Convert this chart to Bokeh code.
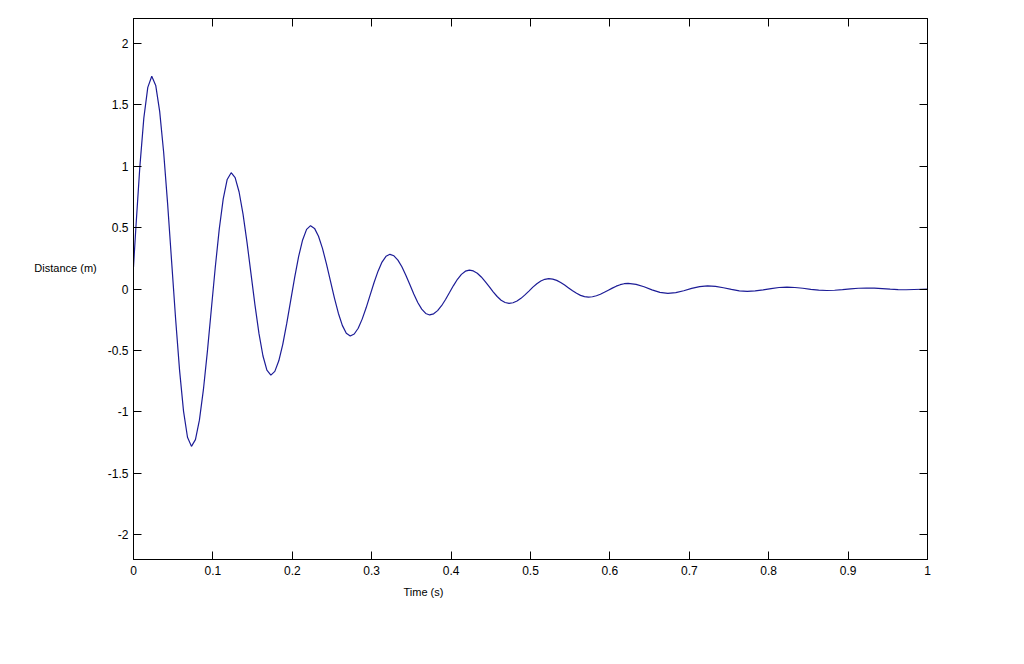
from bokeh.plotting import figure
from bokeh.models import LinearAxis, FixedTicker, Range1d
from bokeh.core.properties import value
from bokeh.embed import file_html
from bokeh.resources import INLINE

# Time samples (s) and distance readings (m)
time_s = [
    0.000, 0.003, 0.008, 0.013, 0.018, 0.023,
    0.028, 0.033, 0.038, 0.043, 0.048, 0.053, 0.058, 0.063, 0.068, 0.073,
    0.078, 0.083, 0.088, 0.093, 0.098, 0.103, 0.108, 0.113, 0.118, 0.123,
    0.128, 0.133, 0.138, 0.143, 0.148, 0.153, 0.158, 0.163, 0.168, 0.173,
    0.178, 0.183, 0.188, 0.193, 0.198, 0.203, 0.208, 0.213, 0.218, 0.223,
    0.228, 0.233, 0.238, 0.243, 0.248, 0.253, 0.258, 0.263, 0.268, 0.273,
    0.278, 0.283, 0.288, 0.293, 0.298, 0.303, 0.308, 0.313, 0.318, 0.323,
    0.328, 0.333, 0.338, 0.343, 0.348, 0.353, 0.358, 0.363, 0.368, 0.373,
    0.378, 0.383, 0.388, 0.393, 0.398, 0.403, 0.408, 0.413, 0.418, 0.423,
    0.428, 0.433, 0.438, 0.443, 0.448, 0.453, 0.458, 0.463, 0.468, 0.473,
    0.478, 0.483, 0.488, 0.493, 0.498, 0.503, 0.508, 0.513, 0.518, 0.523,
    0.528, 0.533, 0.538, 0.543, 0.548, 0.553, 0.558, 0.563, 0.568, 0.573,
    0.578, 0.583, 0.588, 0.593, 0.598, 0.603, 0.608, 0.613, 0.618, 0.623,
    0.633, 0.643, 0.653, 0.663, 0.673,
    0.683, 0.693, 0.703, 0.713, 0.723,
    0.733, 0.743, 0.753, 0.763, 0.773,
    0.783, 0.793, 0.803, 0.813, 0.823,
    0.833, 0.843, 0.853, 0.863, 0.873,
    0.883, 0.893, 0.903, 0.913, 0.923,
    0.933, 0.943, 0.953, 0.963, 0.973,
    0.983, 0.993, 1.000,
]
distance_m = [
    0.18, 0.50, 0.995, 1.39, 1.64, 1.73,
    1.656, 1.443, 1.110, 0.690, 0.225, -0.240, -0.660, -0.993, -1.206, -1.28,
    -1.225, -1.067, -0.821, -0.511, -0.167, 0.177, 0.487, 0.733, 0.891, 0.946,
    0.906, 0.789, 0.607, 0.377, 0.123, -0.131, -0.361, -0.543, -0.660, -0.70,
    -0.670, -0.584, -0.450, -0.280, -0.093, 0.095, 0.265, 0.399, 0.485, 0.515,
    0.493, 0.429, 0.330, 0.205, 0.066, -0.072, -0.197, -0.296, -0.360, -0.382,
    -0.366, -0.319, -0.245, -0.153, -0.050, 0.053, 0.145, 0.219, 0.266, 0.282,
    0.270, 0.235, 0.181, 0.112, 0.036, -0.041, -0.110, -0.164, -0.199, -0.211,
    -0.202, -0.176, -0.136, -0.085, -0.029, 0.028, 0.079, 0.119, 0.145, 0.154,
    0.147, 0.128, 0.098, 0.060, 0.019, -0.023, -0.061, -0.091, -0.110, -0.117,
    -0.112, -0.098, -0.076, -0.048, -0.017, 0.015, 0.043, 0.065, 0.079, 0.084,
    0.080, 0.070, 0.053, 0.032, 0.009, -0.014, -0.035, -0.052, -0.062, -0.066,
    -0.063, -0.055, -0.043, -0.027, -0.010, 0.007, 0.023, 0.035, 0.043, 0.046,
    0.038, 0.018, -0.007, -0.027, -0.035,
    -0.029, -0.014, 0.005, 0.020, 0.026,
    0.022, 0.010, -0.003, -0.015, -0.019,
    -0.016, -0.007, 0.003, 0.012, 0.015,
    0.012, 0.006, -0.003, -0.009, -0.012,
    -0.010, -0.005, 0.001, 0.006, 0.008,
    0.0067, 0.0032, -0.0012, -0.0047, -0.006,
    -0.004, -0.002, -0.0005,
]

x_ticks = [0, 0.1, 0.2, 0.3, 0.4, 0.5, 0.6, 0.7, 0.8, 0.9, 1]
x_tick_labels = ["0", "0.1", "0.2", "0.3", "0.4", "0.5", "0.6", "0.7", "0.8", "0.9", "1"]
y_ticks = [-2, -1.5, -1, -0.5, 0, 0.5, 1, 1.5, 2]
y_tick_labels = ["-2", "-1.5", "-1", "-0.5", "0", "0.5", "1", "1.5", "2"]
x_label = "Time (s)"
y_label = "Distance (m)"

FONT = "Liberation Sans"

p = figure(
    width=1016, height=656,
    x_range=Range1d(0, 1), y_range=Range1d(-2.2, 2.2),
    output_backend="svg", toolbar_location=None,
    min_border_left=133, min_border_right=89, min_border_top=18, min_border_bottom=97,
    background_fill_color="white", border_fill_color="white",
)
p.grid.visible = False
p.outline_line_color = "black"
p.outline_line_width = 1

def style_axis(ax, ticks, labels, show_labels=True):
    ax.ticker = FixedTicker(ticks=ticks)
    ax.major_label_overrides = {t: l for t, l in zip(ticks, labels)}
    ax.axis_line_color = "black"
    ax.major_tick_line_color = "black"
    ax.major_tick_in = 8
    ax.major_tick_out = 0
    ax.minor_tick_line_color = None
    ax.major_label_text_font = FONT
    ax.major_label_text_font_size = "12px"
    ax.major_label_text_color = "black" if show_labels else None

style_axis(p.xaxis[0], x_ticks, x_tick_labels)
p.xaxis[0].major_label_standoff = 6
style_axis(p.yaxis[0], y_ticks, y_tick_labels)
p.yaxis[0].major_label_standoff = 5

top = LinearAxis()
style_axis(top, x_ticks, x_tick_labels, show_labels=False)
p.add_layout(top, "above")
right = LinearAxis()
style_axis(right, y_ticks, y_tick_labels, show_labels=False)
p.add_layout(right, "right")

p.line(time_s, distance_m, line_color="#1c1c96", line_width=1.2)

# axis titles as unclipped text glyphs placed outside the frame
p.text(x=[0.3652], y=[-2.463], text=[x_label], text_align="center",
       text_baseline="middle", text_font=value(FONT), text_font_size="11px",
       text_color="black", level="annotation")
p.text(x=[-0.0856], y=[0.171], text=[y_label], text_align="center",
       text_baseline="middle", text_font=value(FONT), text_font_size="11px",
       text_color="black", level="annotation")

open("out.html", "w").write(file_html(p, INLINE))
